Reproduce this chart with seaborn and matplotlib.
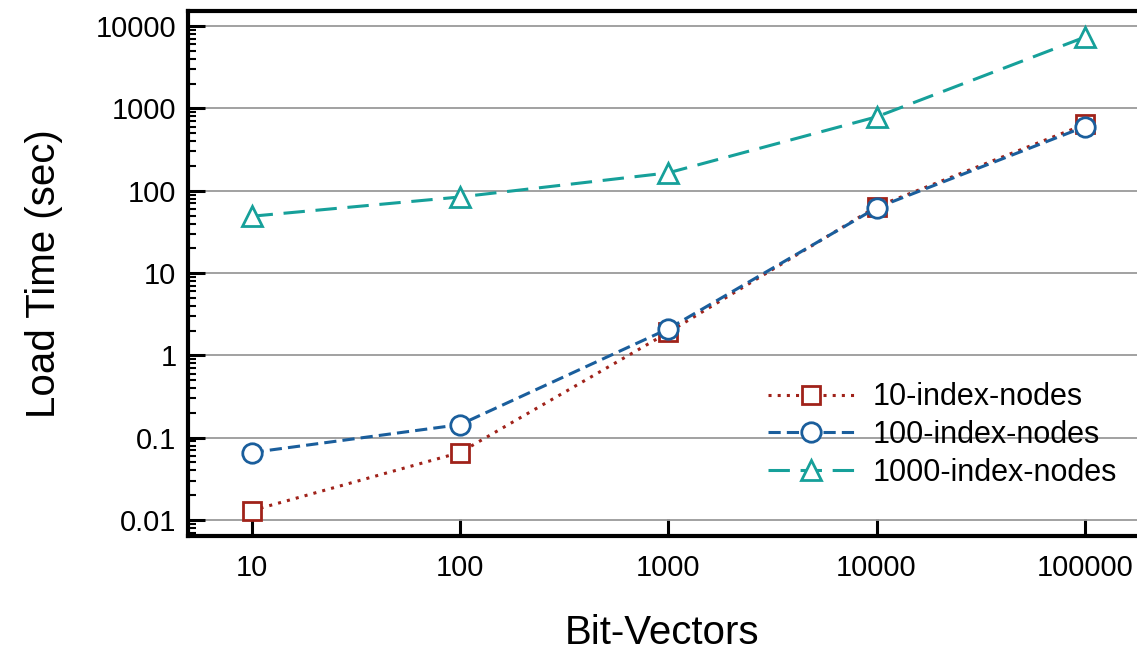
import numpy as np
import pandas as pd
import seaborn as sns
import matplotlib
matplotlib.use("Agg")
import matplotlib.pyplot as plt
from matplotlib.ticker import FuncFormatter, LogLocator, NullLocator

bit_vectors = [10, 100, 1000, 10000, 100000]
nodes_10 = [0.013, 0.066, 1.9, 64, 640]
nodes_100 = [0.066, 0.144, 2.1, 62, 600]
nodes_1000 = [49, 84, 165, 790, 7350]

labels = ["10-index-nodes", "100-index-nodes", "1000-index-nodes"]
colors = ["#A0221A", "#1A5E9C", "#16A09A"]
markers = ["s", "o", "^"]
msizes = [13, 14, 15]
styles = [(0, (1, 2)), (0, (4, 2)), (0, (7, 3.5))]

sns.set_style("ticks")
plt.rcParams["font.family"] = ["Liberation Sans", "DejaVu Sans"]
for k in ["text.color", "axes.labelcolor", "xtick.color", "ytick.color"]:
    plt.rcParams[k] = "black"

fig = plt.figure(figsize=(11.37, 6.56), dpi=100)
ax = fig.add_axes([0.165, 0.183, 0.835, 0.800])

for vals, lab, c, m, ms, ls in zip([nodes_10, nodes_100, nodes_1000], labels, colors,
                                   markers, msizes, styles):
    df = pd.DataFrame({"x": bit_vectors, "y": vals})
    sns.lineplot(data=df, x="x", y="y", ax=ax, color=c, marker=m, linestyle=ls,
                 linewidth=2.2, markersize=ms, markerfacecolor="white",
                 markeredgecolor=c, markeredgewidth=2, label=lab, legend=False)

ax.set_xscale("log")
ax.set_yscale("log")
ax.set_xlim(4.93, 178000)
ax.set_ylim(0.0064, 15200)
ax.set_xticks(bit_vectors)
ax.xaxis.set_minor_locator(NullLocator())
ax.set_yticks([0.01, 0.1, 1, 10, 100, 1000, 10000])
ax.yaxis.set_minor_locator(LogLocator(base=10, subs=np.arange(2, 10)))
fmt = FuncFormatter(lambda v, p: f"{v:g}")
ax.xaxis.set_major_formatter(fmt)
ax.yaxis.set_major_formatter(fmt)
ax.yaxis.set_minor_formatter(FuncFormatter(lambda v, p: ""))

ax.grid(axis="y", which="major", color="#9a9a9a", linewidth=1.3)
ax.set_axisbelow(True)
ax.tick_params(axis="both", which="major", direction="in", length=12, width=2.2,
               labelsize=21)
ax.tick_params(axis="x", which="major", pad=13)
ax.tick_params(axis="y", which="major", pad=8)
ax.tick_params(axis="y", which="minor", direction="in", length=6, width=1.5)
for side in ["left", "bottom", "top"]:
    ax.spines[side].set_linewidth(3)
    ax.spines[side].set_color("black")
ax.spines["right"].set_visible(False)

ax.set_xlabel("Bit-Vectors", fontsize=29, labelpad=23)
ax.set_ylabel("Load Time (sec)", fontsize=29, labelpad=24)

ax.legend(loc="center", bbox_to_anchor=(0.829, 0.337), bbox_transform=fig.transFigure,
          frameon=False, fontsize=22, handlelength=2.8, labelspacing=0.25,
          handletextpad=0.6)

fig.savefig("out.png", dpi=100)
